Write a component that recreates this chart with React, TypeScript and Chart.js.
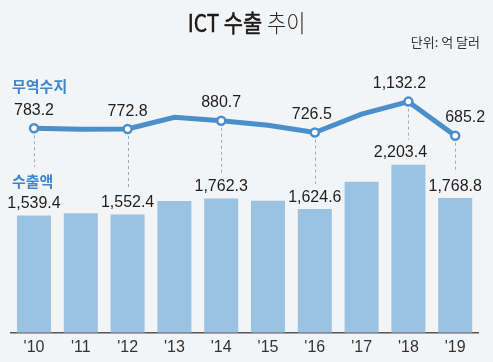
import { useEffect, useRef } from "react";
import { Chart, registerables } from "chart.js";

Chart.register(...registerables);

const years = ["'10", "'11", "'12", "'13", "'14", "'15", "'16", "'17", "'18", "'19"];
const exportValues = [1539.4, 1567, 1552.4, 1728, 1762.3, 1732, 1624.6, 1980, 2203.4, 1768.8];
const tradeBalance = [783.2, 770, 772.8, 926, 880.7, 822, 726.5, 968, 1132.2, 685.2];
const labeledIndex = [0, 2, 4, 6, 8, 9];

const titleBold = "ICT 수출 ";
const titleLight = "추이";
const unitText = "단위: 억 달러";
const balanceName = "무역수지";
const exportName = "수출액";

const BG = "#f3f4f6";
const BAR = "#9cc2e2";
const LINE = "#4a8fcc";
const NAME = "#3d88cc";
const KR = "'Noto Sans CJK KR', sans-serif";

const fmt = (v: number) =>
  v.toLocaleString("en-US", { minimumFractionDigits: 1, maximumFractionDigits: 1 });

const labelShift: Record<string, number> = { "b9": 10, "b8": -9, "e8": -8, "b6": -3 };

const drawCondensed = (ctx: any, text: string, cx: number, cy: number, font: string, sx: number) => {
  ctx.save();
  ctx.translate(cx, cy);
  ctx.scale(sx, 1);
  ctx.font = font;
  ctx.fillText(text, 0, 0);
  ctx.restore();
};

const annotPlugin = {
  id: "annot",
  beforeDraw(chart: any) {
    const { ctx, width, height } = chart;
    ctx.save();
    ctx.fillStyle = BG;
    ctx.fillRect(0, 0, width, height);
    ctx.restore();
  },
  beforeDatasetsDraw(chart: any) {
    const { ctx } = chart;
    const x = chart.scales.x;
    const y = chart.scales.y;
    const y2 = chart.scales.y2;
    ctx.save();
    ctx.strokeStyle = "#a8a8a8";
    ctx.lineWidth = 1;
    ctx.setLineDash([3, 3]);
    labeledIndex.forEach((i) => {
      const px = Math.round(x.getPixelForValue(i)) + 0.5;
      const top = y2.getPixelForValue(tradeBalance[i]) + 7;
      let bottom = y.getPixelForValue(exportValues[i]) - 12 - 8 - 5;
      if (i === 0) bottom = 181 - 8 - 6;
      ctx.beginPath();
      ctx.moveTo(px, top);
      ctx.lineTo(px, bottom);
      ctx.stroke();
    });
    ctx.restore();
  },
  afterDatasetsDraw(chart: any) {
    const { ctx } = chart;
    const x = chart.scales.x;
    const y = chart.scales.y;
    const y2 = chart.scales.y2;
    ctx.save();

    // title
    ctx.save();
    ctx.translate(246.5, 23);
    ctx.scale(0.87, 1);
    ctx.textBaseline = "middle";
    ctx.textAlign = "left";
    ctx.fillStyle = "#1a1a1a";
    const f1 = `400 24px ${KR}`;
    const f2 = `300 24px ${KR}`;
    ctx.font = f1;
    const w1 = ctx.measureText(titleBold).width;
    ctx.font = f2;
    const w2 = ctx.measureText(titleLight).width;
    const start = -(w1 + w2) / 2;
    ctx.font = f1;
    ctx.fillText(titleBold, start, 0);
    ctx.lineWidth = 0.5;
    ctx.strokeStyle = "#1a1a1a";
    ctx.strokeText(titleBold, start, 0);
    ctx.fillStyle = "#2a2a2a";
    ctx.font = f2;
    ctx.fillText(titleLight, start + w1, 0);
    ctx.restore();

    // unit
    ctx.font = `13px ${KR}`;
    ctx.fillStyle = "#333";
    ctx.textAlign = "right";
    ctx.textBaseline = "middle";
    ctx.fillText(unitText, 480, 42);

    // series names
    ctx.font = `bold 15px ${KR}`;
    ctx.fillStyle = NAME;
    ctx.textAlign = "left";
    ctx.fillText(balanceName, 12, 86.5);
    ctx.fillText(exportName, 12, 181);

    // value labels
    ctx.fillStyle = "#1e1e1e";
    ctx.textAlign = "center";
    ctx.textBaseline = "middle";
    const numFont = "17px 'Liberation Sans', Arial, sans-serif";
    labeledIndex.forEach((i) => {
      const px = x.getPixelForValue(i);
      const by = y.getPixelForValue(exportValues[i]);
      const ly = y2.getPixelForValue(tradeBalance[i]);
      drawCondensed(ctx, fmt(exportValues[i]), px + (labelShift["e" + i] || 0), by - 12, numFont, 0.94);
      drawCondensed(ctx, fmt(tradeBalance[i]), px + (labelShift["b" + i] || 0), ly - 18, numFont, 0.94);
    });
    ctx.restore();
  },
};

export default function App() {
  const ref = useRef<HTMLCanvasElement | null>(null);
  useEffect(() => {
    document.body.style.margin = "0";
    document.body.style.background = BG;
    const canvas = ref.current;
    if (!canvas) return;
    const pointRadius = years.map((_, i) => (labeledIndex.includes(i) ? 4 : 0));
    const chart = new Chart(canvas, {
      type: "bar",
      data: {
        labels: years,
        datasets: [
          {
            type: "line",
            label: balanceName,
            data: tradeBalance,
            yAxisID: "y2",
            borderColor: LINE,
            borderWidth: 5,
            backgroundColor: "#ffffff",
            pointRadius,
            pointHoverRadius: pointRadius,
            pointBorderWidth: 2.5,
            pointBorderColor: LINE,
            pointBackgroundColor: "#ffffff",
            tension: 0,
            order: 0,
          } as any,
          {
            type: "bar",
            label: exportName,
            data: exportValues,
            yAxisID: "y",
            backgroundColor: BAR,
            borderWidth: 0,
            barPercentage: 0.727,
            categoryPercentage: 1,
            order: 1,
          },
        ],
      },
      options: {
        responsive: false,
        animation: false,
        layout: { padding: { left: 10.6, right: 14.4, top: 60, bottom: 0 } },
        plugins: { legend: { display: false }, tooltip: { enabled: false }, title: { display: false } },
        scales: {
          x: {
            offset: true,
            grid: { display: false, drawTicks: false },
            border: { display: true, color: "#555", width: 1.5 },
            ticks: {
              color: "#333",
              padding: 5,
              font: { family: "'Liberation Sans', Arial, sans-serif", size: 16 },
            },
          },
          y: { display: false, min: 0, max: 3578 },
          y2: { display: false, min: -1900, max: 1678 },
        },
      },
      plugins: [annotPlugin],
    });
    return () => chart.destroy();
  }, []);
  return <canvas ref={ref} width={493} height={362} style={{ display: "block", width: 493, height: 362 }} />;
}
